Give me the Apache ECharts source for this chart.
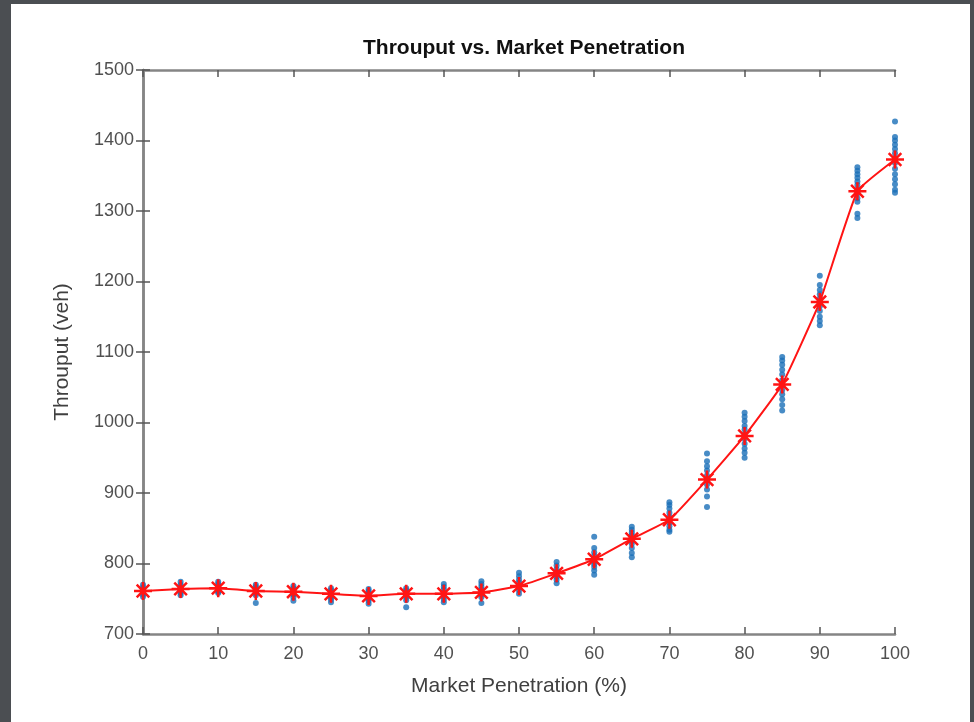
<!DOCTYPE html>
<html>
<head>
<meta charset="utf-8">
<script src="https://cdn.jsdelivr.net/npm/echarts@6/dist/echarts.min.js"></script>
<style>
  html, body { margin: 0; padding: 0; background: #4b4e52; }
  #chart { position: absolute; left: 11px; top: 4px; width: 959px; height: 718px; background: #ffffff; }
</style>
</head>
<body>
<div id="chart"></div>
<script>
// market penetration levels (%)
var penetration = [0, 5, 10, 15, 20, 25, 30, 35, 40, 45, 50, 55, 60, 65, 70, 75, 80, 85, 90, 95, 100];

// mean throughput per level (red line)
var meanThrouput = [761, 764, 765, 761, 760, 757, 754, 757, 757, 759, 768, 786, 806, 835, 862, 919, 981, 1054, 1171, 1328, 1373];

// individual runs per level (blue dots)
var runs = [
    [770, 766, 763, 761, 760, 758, 756, 753],
    [774, 770, 767, 765, 763, 761, 758, 755],
    [774, 771, 768, 766, 764, 762, 760, 758],
    [770, 767, 764, 762, 760, 758, 755, 744],
    [768, 765, 762, 760, 758, 756, 752, 747],
    [765, 762, 759, 757, 755, 752, 749, 745],
    [764, 761, 758, 755, 753, 750, 747, 743],
    [765, 762, 759, 757, 755, 752, 748, 738],
    [771, 767, 763, 759, 756, 753, 749, 745],
    [775, 771, 767, 763, 759, 756, 752, 744],
    [787, 782, 777, 773, 769, 766, 762, 757],
    [802, 797, 792, 788, 785, 781, 777, 772],
    [838, 822, 816, 811, 807, 803, 799, 795, 790, 784],
    [852, 848, 844, 840, 836, 832, 828, 822, 815, 809],
    [887, 883, 878, 872, 866, 862, 858, 853, 848, 845],
    [956, 945, 938, 932, 925, 918, 912, 905, 895, 880],
    [1014, 1008, 1002, 995, 990, 983, 977, 970, 963, 957, 950],
    [1093, 1088, 1082, 1075, 1068, 1060, 1053, 1046, 1040, 1033, 1025, 1017],
    [1208, 1195, 1188, 1182, 1176, 1170, 1165, 1158, 1150, 1144, 1138],
    [1362, 1357, 1352, 1347, 1342, 1337, 1330, 1325, 1318, 1313, 1296, 1290],
    [1427, 1405, 1400, 1394, 1388, 1382, 1375, 1368, 1360, 1352, 1345, 1338, 1330, 1326]
];

var xTicks = [0, 10, 20, 30, 40, 50, 60, 70, 80, 90, 100];
var yTicks = [700, 800, 900, 1000, 1100, 1200, 1300, 1400, 1500];

var runPoints = [];
for (var i = 0; i < penetration.length; i++) {
    for (var j = 0; j < runs[i].length; j++) {
        runPoints.push([penetration[i], runs[i][j]]);
    }
}
var meanPoints = [];
for (var k = 0; k < penetration.length; k++) {
    meanPoints.push([penetration[k], meanThrouput[k]]);
}

var chart = echarts.init(document.getElementById('chart'));

var axisFont = { fontFamily: 'Liberation Sans', fontSize: 18, color: '#505050' };
var lineStyle = { color: '#858585', width: 2.5 };
var tickStyle = { color: '#555555', width: 1.5 };

var option = {
    animation: false,
    title: {
        text: 'Throuput vs. Market Penetration',
        left: 508,
        top: 29,
        textAlign: 'center',
        textStyle: { fontFamily: 'Liberation Sans', fontSize: 21, fontWeight: 'bold', color: '#111111' }
    },
    grid: { left: 132, right: 75, top: 66, bottom: 88 },
    xAxis: [
        {
            type: 'value', min: 0, max: 100, interval: 10,
            name: 'Market Penetration (%)', nameLocation: 'middle', nameGap: 42,
            nameTextStyle: { fontFamily: 'Liberation Sans', fontSize: 21, color: '#404040' },
            axisLine: { show: true, lineStyle: lineStyle },
            axisTick: { show: true, inside: true, length: 7, lineStyle: tickStyle },
            axisLabel: Object.assign({ margin: 11, formatter: function (v) { return xTicks.indexOf(v) >= 0 ? v : ''; } }, axisFont),
            splitLine: { show: false }
        },
        {
            type: 'value', min: 0, max: 100, interval: 10, position: 'top',
            axisLine: { show: true, lineStyle: lineStyle },
            axisTick: { show: true, inside: true, length: 7, lineStyle: tickStyle },
            axisLabel: { show: false },
            splitLine: { show: false }
        }
    ],
    yAxis: [
        {
            type: 'value', min: 700, max: 1500, interval: 100,
            name: 'Throuput (veh)', nameLocation: 'middle', nameGap: 70,
            nameTextStyle: { fontFamily: 'Liberation Sans', fontSize: 21, color: '#404040' },
            axisLine: { show: true, lineStyle: lineStyle },
            axisTick: { show: true, inside: true, length: 7, lineStyle: tickStyle },
            axisLabel: Object.assign({ margin: 9, formatter: function (v) { return yTicks.indexOf(v) >= 0 ? v : ''; } }, axisFont),
            splitLine: { show: false }
        },
        {
            type: 'value', min: 700, max: 1500, interval: 100, position: 'right',
            axisLine: { show: true, lineStyle: lineStyle },
            axisTick: { show: true, inside: true, length: 7, lineStyle: tickStyle },
            axisLabel: { show: false },
            splitLine: { show: false }
        }
    ],
    series: [
        {
            name: 'runs',
            type: 'scatter',
            data: runPoints,
            symbolSize: 6,
            itemStyle: { color: '#1a6fb8' },
            z: 2
        },
        {
            name: 'mean',
            type: 'line',
            data: meanPoints,
            smooth: 0.12,
            symbol: 'path://M0,-10L0,10M-10,0L10,0M-7,-7L7,7M-7,7L7,-7',
            symbolSize: 18,
            showAllSymbol: true,
            lineStyle: { color: '#ff1414', width: 2 },
            itemStyle: { color: '#ff1414', borderColor: '#ff1414', borderWidth: 2.5 },
            z: 3
        }
    ]
};

chart.setOption(option);
</script>
</body>
</html>
